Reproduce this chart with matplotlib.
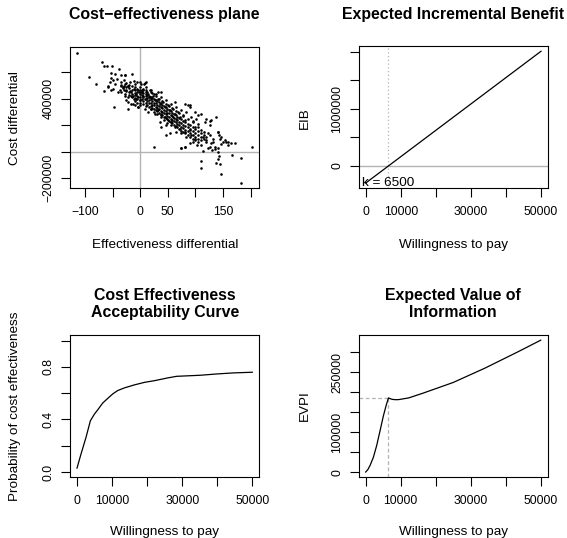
import numpy as np
import matplotlib
matplotlib.use('Agg')
import matplotlib.pyplot as plt

plt.rcParams['font.family'] = ['Liberation Sans', 'DejaVu Sans']

# ---- data ----
# cost-effectiveness plane: (effectiveness differential, cost differential)
ce_points = [
    # upper-left tail
    (-114.4, 750000), (-93.4, 562500), (-79.5, 512500), (-68.7, 680000), (-66.3, 650000),
    (-60.2, 650000), (-65.7, 462500), (-50.6, 645000), (-38.5, 625000), (-48.2, 337500),
    (-53.6, 595000), (-46.4, 587500), (-34.3, 580000), (-27.1, 580000), (-11.4, 537500),
    (-52.4, 557500), (-49.4, 542500), (-41.6, 550000), (-55.4, 530000), (-46.4, 512500),
    (-58.4, 500000), (-49.4, 475000), (-34.3, 505000), (-31.3, 480000), (-22.3, 500000),
    (-19.3, 462500), (-34.3, 450000), (-27.1, 425000), (-16.3, 425000), (-25.3, 387500),
    (-13.3, 362500), (-7.2, 400000), (-4.2, 337500), (-1.2, 525000), (7.8, 512500),
    (-10.3, 475000), (-3.0, 450000), (4.8, 475000), (10.8, 487500), (18.7, 450000),
    (25.9, 437500), (-22.3, 325000), (-14.6, 588000), (-28.0, 583000), (-37.0, 463000),
    (-31.0, 488000), (-26.6, 513000), (-22.0, 500000), (-25.0, 468000), (-19.0, 525000),
    (-9.7, 513000), (-5.0, 525000), (-28.0, 438000), (-22.0, 413000), (-16.0, 450000),
    (-12.7, 425000), (-11.0, 400000), (-6.7, 438000), (-3.7, 413000), (-3.7, 463000),
    (-0.7, 388000), (-22.0, 375000), (-16.0, 363000), (-9.7, 350000), (-3.7, 338000),
    (-40.0, 450000), (-59.0, 493000), (-53.0, 463000), (9.8, 525000), (2.3, 513000),
    (8.3, 518000),
    # main band
    (2.3, 450000), (5.3, 425000), (8.3, 400000), (11.3, 463000), (14.3, 438000),
    (17.3, 413000), (20.4, 468000), (23.4, 425000), (26.4, 388000), (29.4, 438000),
    (32.4, 400000), (35.4, 363000), (38.4, 413000), (41.4, 375000), (44.4, 338000),
    (47.4, 388000), (50.4, 350000), (53.5, 313000), (56.5, 363000), (59.5, 325000),
    (62.5, 288000), (65.5, 338000), (68.5, 300000), (71.5, 263000), (74.5, 313000),
    (77.6, 275000), (80.6, 238000), (83.6, 300000), (86.6, 350000), (89.6, 338000),
    (92.6, 263000), (95.6, 225000), (98.7, 188000), (101.7, 250000), (104.7, 213000),
    (110.7, 163000), (116.8, 225000), (122.8, 138000), (128.8, 238000), (131.8, 100000),
    (137.8, 263000), (140.9, 150000), (147.0, 113000), (153.0, 88000), (159.0, 75000),
    (165.0, 63000), (171.0, 68000),
    (8.3, 325000), (14.3, 300000), (20.4, 325000), (26.4, 288000), (32.4, 313000),
    (38.4, 275000), (44.4, 263000), (47.4, 200000), (50.4, 238000), (56.5, 225000),
    (59.5, 263000), (62.5, 188000), (65.5, 150000), (71.5, 175000), (74.5, 138000),
    (80.6, 150000), (83.6, 113000), (89.6, 163000), (92.6, 125000), (98.7, 100000),
    (104.7, 75000), (110.7, 50000), (113.7, 108000), (119.8, 88000), (125.8, 38000),
    (128.8, 63000), (134.8, 38000), (140.9, 25000), (74.5, 25000), (80.6, 38000),
    (25.3, 37500), (47.4, 125000), (53.5, 138000), (38.4, 188000), (35.4, 225000),
    (89.6, 350000), (80.6, 363000), (62.5, 375000), (38.4, 450000), (32.4, 450000),
    (17.3, 463000), (98.7, 300000), (104.7, 275000), (110.7, 288000), (119.8, 250000),
    (125.8, 200000), (126.0, 232500),
    # dense core
    (-10, 470000), (-10, 430000), (-10, 405000), (-10, 445000), (-10, 490000), (-10, 380000),
    (-5, 455000), (-5, 420000), (-5, 395000), (-5, 478000), (-5, 365000),
    (0, 465000), (0, 440000), (0, 415000), (0, 392000), (0, 370000), (0, 490000), (0, 350000),
    (3, 455000), (3, 428000), (3, 400000), (3, 470000),
    (6, 445000), (6, 410000), (6, 380000), (6, 360000), (6, 470000),
    (10, 440000), (10, 418000), (10, 395000), (10, 370000), (10, 345000), (10, 455000),
    (13, 430000), (13, 405000), (13, 380000), (13, 355000), (13, 448000),
    (16, 425000), (16, 390000), (16, 365000), (16, 340000), (16, 410000),
    (19, 415000), (19, 395000), (19, 370000), (19, 345000), (19, 320000),
    (22, 408000), (22, 380000), (22, 355000), (22, 330000), (22, 445000),
    (25, 400000), (25, 372000), (25, 350000), (25, 320000), (25, 300000),
    (28, 390000), (28, 365000), (28, 340000), (28, 315000), (28, 420000),
    (31, 380000), (31, 355000), (31, 330000), (31, 305000), (31, 285000),
    (34, 375000), (34, 345000), (34, 320000), (34, 295000), (34, 400000),
    (37, 365000), (37, 335000), (37, 310000), (37, 285000), (37, 260000),
    (40, 355000), (40, 330000), (40, 300000), (40, 275000), (40, 385000),
    (43, 345000), (43, 318000), (43, 290000), (43, 265000), (43, 240000),
    (46, 335000), (46, 310000), (46, 285000), (46, 255000), (46, 360000),
    (49, 325000), (49, 295000), (49, 270000), (49, 245000), (49, 220000),
    (52, 315000), (52, 290000), (52, 260000), (52, 235000), (52, 345000),
    (55, 305000), (55, 280000), (55, 250000), (55, 225000), (55, 200000),
    (58, 295000), (58, 270000), (58, 240000), (58, 215000), (58, 330000),
    (61, 285000), (61, 258000), (61, 232000), (61, 205000),
    (64, 275000), (64, 250000), (64, 222000), (64, 195000), (64, 310000),
    (67, 265000), (67, 240000), (67, 212000), (67, 185000),
    (70, 255000), (70, 228000), (70, 200000), (70, 175000), (70, 290000),
    (74, 245000), (74, 215000), (74, 190000), (74, 160000),
    (78, 235000), (78, 205000), (78, 180000), (78, 150000), (78, 270000),
    (82, 225000), (82, 195000), (82, 165000), (82, 140000),
    (86, 210000), (86, 185000), (86, 155000), (86, 125000), (86, 250000),
    (90, 200000), (90, 170000), (90, 145000), (90, 115000),
    (95, 185000), (95, 160000), (95, 130000), (95, 100000), (95, 230000),
    (100, 170000), (100, 145000), (100, 115000), (100, 90000),
    (105, 160000), (105, 130000), (105, 100000), (105, 190000),
    (110, 140000), (110, 110000), (110, 85000),
    (115, 125000), (115, 95000), (115, 150000),
    (120, 110000), (120, 70000),
    (-15, 470000), (-15, 440000), (-15, 500000), (-15, 415000),
    (-20, 480000), (-20, 455000), (-20, 505000), (-20, 430000),
    (-25, 490000), (-25, 520000), (-25, 460000),
    (-30, 500000), (-30, 540000), (-30, 470000),
    (-35, 530000), (-35, 495000),
    # lower-right tail
    (203.0, 33000), (182.0, -47000), (167.0, -27000), (146.4, -172000), (183.2, -237000),
    (141.7, -52000), (138.0, -82000), (144.0, -90000), (111.0, -70000), (111.0, -122000),
    (142.2, -30000), (140.4, -5000), (130.8, 15000), (135.0, 18000), (113.8, 5000),
    (74.8, 25000), (82.0, 37500), (159.0, 50000), (156.0, 70000), (150.0, 75000),
    (147.0, 58000), (144.0, 100000), (142.8, 130000), (141.0, 150000), (126.0, 125000),
    (132.0, 75000), (102.0, 50000), (96.0, 75000), (123.0, 25000), (90.0, 63000),
]

kstar = 6500
wtp_eib = [0, 50000]
eib = [-300000, 2007700]

wtp_ceac = [0, 1140, 2570, 3810, 4950, 6100, 7330, 8760, 10190, 11620, 13520,
            16380, 19240, 22100, 25900, 28400, 35100, 39900, 44600, 50000]
ceac = [0.03, 0.137, 0.264, 0.39, 0.44, 0.48, 0.525, 0.56, 0.594, 0.62, 0.64,
        0.663, 0.682, 0.695, 0.716, 0.728, 0.736, 0.746, 0.754, 0.759]

wtp_evpi = [0, 600, 1250, 2200, 3150, 4100, 5050, 5800, 6500, 7000, 7500, 8400, 9400,
            12300, 16100, 20000, 25000, 34000, 43500, 50000]
evpi = [1000, 7000, 17500, 38000, 67500, 104000, 141000, 166000, 186000, 184000, 182500,
        181500, 181700, 186000, 197000, 209000, 224500, 260000, 301000, 330000]

wtp_ticks = [0, 10000, 20000, 30000, 40000, 50000]
wtp_labels = ['0', '10000', '', '30000', '', '50000']

# ---- figure ----
W, H = 567, 538
fig = plt.figure(figsize=(W / 100, H / 100), dpi=100)

TICK_FS = 8.7
LAB_FS = 9.7
TITLE_FS = 11.4
GREY = '#b3b3b3'


def px_axes(x0, y0, x1, y1):
    return fig.add_axes([x0 / W, 1 - y1 / H, (x1 - x0) / W, (y1 - y0) / H])


def style(ax, xt, xl, yt, yl):
    ax.set_xticks(xt)
    ax.set_xticklabels(xl)
    ax.set_yticks(yt)
    ax.set_yticklabels(yl, rotation=90, va='center')
    ax.tick_params(axis='both', length=6.5, width=0.8, labelsize=TICK_FS)
    ax.tick_params(axis='x', pad=6)
    ax.tick_params(axis='y', pad=4.4)
    for s in ax.spines.values():
        s.set_linewidth(0.8)
    ax.margins(0.04)


def text_px(x, y, s, **kw):
    fig.text(x / W, 1 - y / H, s, ha='center', va='center', **kw)


# top-left: CE plane
ax1 = px_axes(70, 47.3, 259.3, 188.3)
pts = np.array(ce_points)
ax1.axvline(0, color=GREY, lw=1.0, zorder=1)
ax1.axhline(0, color=GREY, lw=1.0, zorder=1)
ax1.scatter(pts[:, 0], pts[:, 1], s=3.5, color='black', linewidths=0, zorder=3)
style(ax1, [-100, -50, 0, 50, 100, 150, 200], ['\u2212100', '', '0', '50', '', '150', ''],
      [-200000, 0, 200000, 400000, 600000], ['\u2212200000', '', '', '400000', ''])
text_px(164.7, 15, 'Cost\u2212effectiveness plane', fontsize=TITLE_FS, fontweight='bold')
text_px(164.7, 245, 'Effectiveness differential', fontsize=LAB_FS)
text_px(14.7, 117.8, 'Cost differential', fontsize=LAB_FS, rotation=90)

# top-right: EIB
ax2 = px_axes(358.7, 46, 548, 188.3)
ax2.axhline(0, color=GREY, lw=1.0, zorder=1)
ax2.axvline(kstar, color=GREY, lw=0.9, ls=(0, (1, 2)), zorder=1)
ax2.plot(wtp_eib, eib, color='black', lw=0.9)
style(ax2, wtp_ticks, wtp_labels, [0, 500000, 1000000, 1500000, 2000000],
      ['0', '', '1000000', '', ''])
ax2.text(kstar, eib[0], f'k = {kstar}', ha='center', va='center', fontsize=LAB_FS)
text_px(453.3, 15, 'Expected Incremental Benefit', fontsize=TITLE_FS, fontweight='bold')
text_px(453.3, 245, 'Willingness to pay', fontsize=LAB_FS)
text_px(304.7, 117.8, 'EIB', fontsize=LAB_FS, rotation=90)

# bottom-left: CEAC
ax3 = px_axes(70, 335.3, 259.3, 477.3)
ax3.plot(wtp_ceac, ceac, color='black', lw=0.9)
style(ax3, wtp_ticks, wtp_labels, [0, 0.2, 0.4, 0.6, 0.8, 1.0],
      ['0.0', '', '0.4', '', '0.8', ''])
ax3.set_ylim(-0.04, 1.04)
text_px(164.7, 304, 'Cost Effectiveness\nAcceptability Curve', fontsize=TITLE_FS,
        fontweight='bold', linespacing=1.15)
text_px(164.7, 532, 'Willingness to pay', fontsize=LAB_FS)
text_px(15, 406, 'Probability of cost effectiveness', fontsize=LAB_FS, rotation=90)

# bottom-right: EVPI
ax4 = px_axes(358.7, 334.7, 548, 477.3)
ax4.plot(wtp_evpi, evpi, color='black', lw=0.9, zorder=3)
style(ax4, wtp_ticks, wtp_labels, [0, 50000, 100000, 150000, 200000, 250000, 300000],
      ['0', '', '100000', '', '', '250000', ''])
x0, _ = ax4.get_xlim()
y0, _ = ax4.get_ylim()
ev_k = evpi[wtp_evpi.index(kstar)]
ax4.plot([x0, kstar], [ev_k, ev_k], color=GREY, lw=0.9, ls=(0, (3, 2)), zorder=1)
ax4.plot([kstar, kstar], [y0, ev_k], color=GREY, lw=0.9, ls=(0, (3, 2)), zorder=1)
ax4.set_xlim(x0)
ax4.set_ylim(y0)
text_px(453.3, 304, 'Expected Value of\nInformation', fontsize=TITLE_FS,
        fontweight='bold', linespacing=1.15)
text_px(453.3, 532, 'Willingness to pay', fontsize=LAB_FS)
text_px(304.7, 406, 'EVPI', fontsize=LAB_FS, rotation=90)

fig.savefig('out.png', dpi=100)
